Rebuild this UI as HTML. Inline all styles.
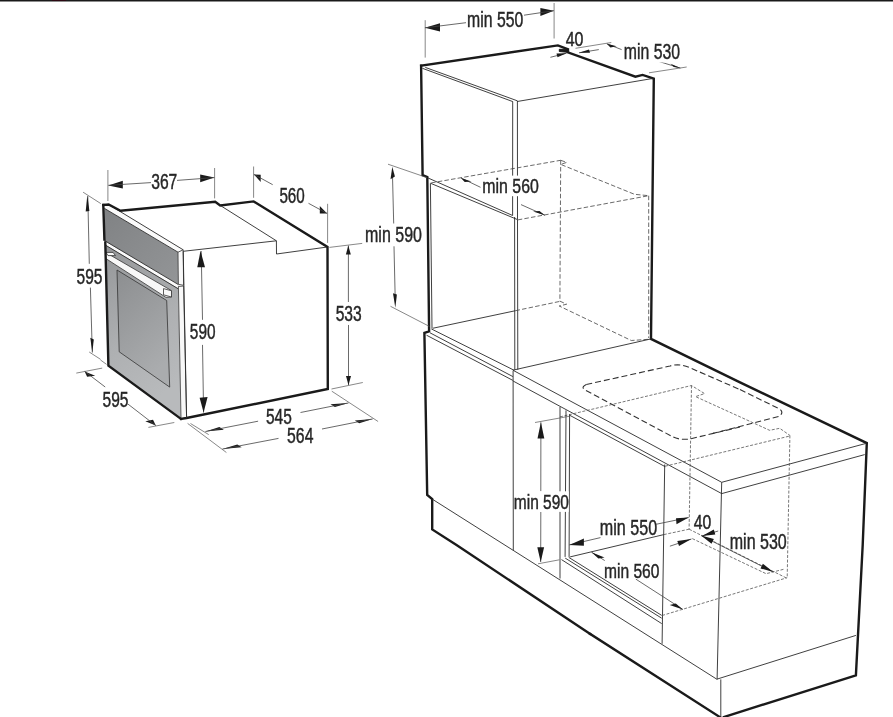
<!DOCTYPE html>
<html><head><meta charset="utf-8"><style>
html,body{margin:0;padding:0;background:#fff;}
svg{display:block;will-change:transform;}
.K{fill:none;stroke:#1a1a1a;stroke-width:2.4;stroke-linejoin:miter;stroke-linecap:square}
.K2{fill:#1a1a1a;stroke:#1a1a1a;stroke-width:1}
.T{fill:none;stroke:#2a2a2a;stroke-width:0.9}
.W{fill:#f8f8f8;stroke:#333;stroke-width:0.8}
.WS{fill:#fafafa;stroke:none}
.E{fill:none;stroke:#555;stroke-width:0.7}
.D{fill:none;stroke:#444;stroke-width:0.8}
.H{fill:none;stroke:#444;stroke-width:0.8;stroke-dasharray:4.5 2.2}
.H2{fill:none;stroke:#555;stroke-width:0.8;stroke-dasharray:3 1.6}
.B{fill:none;stroke:#333;stroke-width:1.1;stroke-dasharray:6 3}
.AH{fill:#1a1a1a;stroke:none}
text{font-family:"Liberation Sans",sans-serif;fill:#262626;stroke:#262626;stroke-width:0.45px;}
</style></head><body>
<svg width="893" height="717" viewBox="0 0 893 717">
<rect x="0" y="0" width="893" height="1.5" fill="#1a1a1a"/><rect x="52" y="0" width="14" height="1" fill="#2c0812"/>
<defs><linearGradient id="gp" x1="0" y1="0" x2="1" y2="1"><stop offset="0" stop-color="#808284"/><stop offset="1" stop-color="#939597"/></linearGradient><linearGradient id="gd" x1="0" y1="0" x2="0.3" y2="1"><stop offset="0" stop-color="#939597"/><stop offset="0.6" stop-color="#aeb0b2"/><stop offset="1" stop-color="#b8babc"/></linearGradient><linearGradient id="gw" x1="0" y1="0" x2="0.4" y2="1"><stop offset="0" stop-color="#8c8e90"/><stop offset="1" stop-color="#aaacae"/></linearGradient></defs>
<path d="M104.3,208.3 L178,252.2 L178.4,284.3 L104.6,240.5 Z" fill="url(#gp)" stroke="none"/>
<path d="M105.3,241 L178.4,284.8 L181,418.5 L108.5,366 Z" fill="url(#gd)" stroke="none"/>
<path d="M117,270 L166.7,300.5 L169.7,387.1 L119.2,351.8 Z" fill="url(#gw)" stroke="#333" stroke-width="0.8"/>
<path d="M104.3,205 L108.6,204.5 L183.2,249.8 L178,252.2 L104.3,208.3 Z" class="WS"/>
<line x1="108.6" y1="204.5" x2="183.2" y2="249.8" class="T"/>
<line x1="104.3" y1="208.3" x2="178" y2="252.2" class="T"/>
<path d="M105,241.2 L178.4,285 L178.4,288.6 L105.6,245 Z" class="WS"/>
<line x1="104.6" y1="240.6" x2="178.4" y2="284.5" class="T"/>
<line x1="105.6" y1="245.2" x2="178.4" y2="288.9" class="T"/>
<line x1="110" y1="259.5" x2="164" y2="294" class="T"/>
<path d="M105.6,252.4 L171.5,290.6 L171.5,297 L166,297.4 L105.6,258.4 Z" class="W"/>
<path d="M163.5,288.6 L171.5,290.8 L171.5,297 L163.5,294.8 Z" class="W"/>
<path d="M106,252.4 L113,252.4 L115.5,255.6 L108,255.6 Z" class="W"/>
<path d="M178,252.2 L183.2,249.8 L183.6,285.3 L178.4,284.3 Z" class="W"/>
<path d="M178.4,286.5 L183.6,286 L186.6,418 L181,418.5 Z" class="W"/>
<path d="M103.3,205 L108.6,204.5 L120.5,210.8 L215.2,201.8 L220.2,205.4 L253.6,201.4 L327.5,247 L327.8,389 L186.6,418 L181,418.9" class="K"/>
<path d="M103.3,205 L104.4,239.5" class="K"/>
<path d="M105.3,242.5 L108.4,365.7 L181,418.9" class="K"/>
<line x1="183.2" y1="251.3" x2="276.4" y2="240.8" class="T"/>
<path d="M220.2,205.4 L276.4,240.8 L276.5,254 L327.4,247" class="T"/>
<line x1="183.2" y1="251.3" x2="186.6" y2="418" class="T"/>
<line x1="107.9" y1="170" x2="107.9" y2="201" class="E"/>
<line x1="214.6" y1="168" x2="214.6" y2="198.4" class="E"/>
<polygon points="108.3,185.5 122.8,180.8 122.8,188.4" class="AH"/>
<polygon points="214.4,177.6 200.2,174.6 200.2,182.2" class="AH"/>
<line x1="108.3" y1="185.3" x2="151" y2="182.6" class="D"/>
<line x1="177" y1="180.4" x2="214.4" y2="177.6" class="D"/>
<rect x="151.80" y="170.50" width="24.70" height="21.70" fill="#fff"/>
<text x="151.20" y="189.36" textLength="26.14" lengthAdjust="spacingAndGlyphs" style="font-size:22.29px">367</text>
<line x1="253.6" y1="166.5" x2="253.6" y2="197.8" class="E"/>
<line x1="327.6" y1="203.8" x2="327.6" y2="242.9" class="E"/>
<polygon points="253.9,174.4 260.7,174.7 260.7,182.1" class="AH"/>
<polygon points="327.1,213.4 319.8,206.1 319.8,213.5" class="AH"/>
<line x1="253.9" y1="174.4" x2="272.7" y2="184.7" class="D"/>
<line x1="308.5" y1="203.3" x2="327.1" y2="213.4" class="D"/>
<rect x="279.90" y="184.20" width="24.30" height="21.60" fill="#fff"/>
<text x="279.38" y="202.64" textLength="25.42" lengthAdjust="spacingAndGlyphs" style="font-size:22.15px">560</text>
<line x1="83.1" y1="192.2" x2="100.8" y2="203.6" class="E"/>
<line x1="89.2" y1="352" x2="100.5" y2="359.3" class="E"/>
<line x1="87.8" y1="196" x2="89.3" y2="263.8" class="D"/>
<line x1="90.4" y1="287.6" x2="92.3" y2="352.6" class="D"/>
<polygon points="87.3,195.3 85.7,211.5 89.4,211" class="AH"/>
<polygon points="92.3,352.6 90.3,337.7 93.8,339.4" class="AH"/>
<rect x="77.00" y="265.90" width="24.60" height="21.10" fill="#fff"/>
<text x="76.56" y="284.00" textLength="25.96" lengthAdjust="spacingAndGlyphs" style="font-size:21.41px">595</text>
<line x1="201.2" y1="251" x2="202.5" y2="319.8" class="D"/>
<line x1="202.5" y1="344.9" x2="203.6" y2="412.6" class="D"/>
<polygon points="200.5,250.8 197.3,267.3 205,267.3" class="AH"/>
<polygon points="203.6,412.6 199.6,397.7 207.6,397.1" class="AH"/>
<rect x="190.60" y="320.30" width="24.90" height="21.70" fill="#fff"/>
<text x="189.84" y="339.00" textLength="25.70" lengthAdjust="spacingAndGlyphs" style="font-size:22.29px">590</text>
<line x1="329.4" y1="247.4" x2="362.2" y2="243.4" class="E"/>
<line x1="331.5" y1="389" x2="362.8" y2="382.5" class="E"/>
<line x1="348.4" y1="245.6" x2="348.4" y2="302" class="D"/>
<line x1="348.5" y1="324.9" x2="348.5" y2="385" class="D"/>
<polygon points="348.3,245.6 345.9,254.6 350.8,254.6" class="AH"/>
<polygon points="348.5,385.2 346,376 351,376" class="AH"/>
<rect x="336.50" y="303.20" width="24.20" height="21.50" fill="#fff"/>
<text x="335.66" y="321.46" textLength="26.04" lengthAdjust="spacingAndGlyphs" style="font-size:22.00px">533</text>
<line x1="76.3" y1="373.1" x2="102.2" y2="368.1" class="E"/>
<line x1="148.4" y1="427.4" x2="174.3" y2="422.5" class="E"/>
<line x1="100.5" y1="360" x2="106.6" y2="364.4" class="E"/>
<polygon points="84.7,371.4 87.1,376.8 95.2,375.8" class="AH"/>
<polygon points="155.8,425.6 145.3,421.2 153,419.7" class="AH"/>
<line x1="84.7" y1="371.4" x2="105.2" y2="387" class="D"/>
<line x1="128" y1="404.1" x2="155.8" y2="425.6" class="D"/>
<rect x="103.00" y="388.50" width="24.60" height="21.50" fill="#fff"/>
<text x="102.56" y="407.00" textLength="25.96" lengthAdjust="spacingAndGlyphs" style="font-size:22.00px">595</text>
<line x1="190.5" y1="423.5" x2="208.7" y2="434.6" class="E"/>
<line x1="187.6" y1="423.4" x2="226.4" y2="452.5" class="E"/>
<line x1="331.8" y1="391.2" x2="378.1" y2="421.5" class="E"/>
<polygon points="205.4,431.5 219.4,427 223.8,429.8" class="AH"/>
<polygon points="348.5,402.9 330.5,404.3 334.9,407.1" class="AH"/>
<line x1="205.4" y1="431.5" x2="258.1" y2="421.2" class="D"/>
<line x1="300.5" y1="412.5" x2="348.5" y2="402.9" class="D"/>
<rect x="266.60" y="405.90" width="24.60" height="21.40" fill="#fff"/>
<text x="266.00" y="424.30" textLength="25.80" lengthAdjust="spacingAndGlyphs" style="font-size:21.85px">545</text>
<polygon points="222.4,449.1 237.3,444.4 241.7,447.2" class="AH"/>
<polygon points="372.7,418.9 354.8,420.5 359.2,423.3" class="AH"/>
<line x1="222.4" y1="449.1" x2="278.5" y2="438.4" class="D"/>
<line x1="322" y1="429" x2="372.7" y2="418.9" class="D"/>
<rect x="287.70" y="424.70" width="25.10" height="21.40" fill="#fff"/>
<text x="287.10" y="443.10" textLength="26.30" lengthAdjust="spacingAndGlyphs" style="font-size:21.85px">564</text>
<path d="M421.2,65.7 L557.9,45.4 L567.8,49.3" class="K"/>
<path d="M567.8,52.4 L635.4,76.7 L642.6,74.9 L653.8,78.5 L651,338.9 L740,382.4 L866.8,443.1 L862.7,545 L855.9,675.3 L724,717" class="K"/>
<path d="M559.3,49.3 L568.7,49.3 L568.7,52.4 L559.3,51.5 Z" class="K2"/>
<path d="M421.1,65.7 L422.6,175.1 L427.3,177 L429.1,331.4 L424.4,332.9 L427.2,495 L432.2,499.1 L432.2,529.4 L456.5,545 L590,633.8" class="K"/>
<line x1="590" y1="633.8" x2="719.8" y2="717" class="K"/>
<line x1="425.3" y1="67.4" x2="517.3" y2="100.8" class="T"/>
<line x1="422.4" y1="68.3" x2="512.8" y2="101.6" class="T"/>
<line x1="512.7" y1="101.6" x2="512.6" y2="215.5" class="T"/>
<line x1="517.4" y1="100.8" x2="517.5" y2="219.6" class="T"/>
<line x1="514.6" y1="217" x2="514.8" y2="369.7" class="T"/>
<line x1="517.5" y1="219.6" x2="517.8" y2="369.7" class="T"/>
<line x1="517.2" y1="101.5" x2="652.5" y2="78.5" class="T"/>
<line x1="427.9" y1="177.9" x2="512.6" y2="215.5" class="T"/>
<line x1="430.4" y1="183.2" x2="517.5" y2="219.6" class="T"/>
<line x1="430.4" y1="183.4" x2="432" y2="328.3" class="T"/>
<path d="M431.2,182.9 L560.7,160.3" class="H"/>
<path d="M560.7,160.3 L566.7,162.4 L560.7,164.4 L634.5,194.3 L648.7,195.7" class="H"/>
<line x1="517.8" y1="219.9" x2="648.7" y2="195.7" class="H"/>
<line x1="560.7" y1="160.3" x2="559.9" y2="301.1" class="H"/>
<line x1="648.7" y1="195.7" x2="648.7" y2="338" class="H"/>
<line x1="432.6" y1="328.3" x2="515.5" y2="310.7" class="T"/>
<line x1="515.5" y1="310.7" x2="559.8" y2="301.4" class="H"/>
<path d="M559.8,301.1 L566.6,304.2 L559.2,306 L631.3,340.5 L648.5,339.3" class="H"/>
<line x1="431.3" y1="328.9" x2="514.2" y2="370.3" class="T"/>
<line x1="430" y1="332.8" x2="512.9" y2="376.6" class="T"/>
<line x1="426.5" y1="335.2" x2="512.9" y2="380.4" class="T"/>
<line x1="513.3" y1="370.1" x2="651" y2="338.9" class="T"/>
<line x1="513.1" y1="370.3" x2="721.7" y2="482.3" class="T"/>
<line x1="513.1" y1="381" x2="721.7" y2="493.6" class="T"/>
<line x1="721.7" y1="482.3" x2="865.7" y2="443.5" class="T"/>
<line x1="721.7" y1="493.6" x2="864.7" y2="454.6" class="T"/>
<line x1="721.7" y1="482.3" x2="717.1" y2="679.4" class="T"/>
<line x1="720.8" y1="679.4" x2="720.8" y2="717" class="T"/>
<line x1="513.1" y1="370.6" x2="513.3" y2="550.3" class="T"/>
<path d="M586.3,384.5 L670,366 Q680,363 690,367.8 L740,389.6" class="B"/>
<path d="M586.3,384.5 Q581,387 584.3,389.6 L673.3,437.1 Q679,440 689.4,439.1 L740,427" class="B"/>
<path d="M740,389.6 L779.7,409 Q784,412 779.7,416.2 L713,433.4" class="B"/>
<path d="M560,416.9 L691.5,385.5 L704.6,393.6 L695.5,396.6 L769.6,430.3 L779.7,428.3 L789.9,435.4" class="H2"/>
<line x1="691.5" y1="385.5" x2="689.1" y2="529.2" class="H2"/>
<line x1="665.2" y1="466.2" x2="789.9" y2="436" class="H2"/>
<line x1="789.9" y1="435.4" x2="787.2" y2="577.7" class="H2"/>
<line x1="560" y1="406.9" x2="560" y2="578.5" class="T"/>
<line x1="566" y1="410.4" x2="565.1" y2="556.9" class="T"/>
<line x1="569.6" y1="414.4" x2="569.1" y2="556.9" class="T"/>
<line x1="569.4" y1="415.1" x2="665.2" y2="466.7" class="T"/>
<line x1="664.7" y1="464.5" x2="662.1" y2="643.8" class="T"/>
<line x1="570.1" y1="556.9" x2="663.8" y2="534.6" class="T"/>
<line x1="663.8" y1="534.6" x2="689.1" y2="529.2" class="H2"/>
<line x1="689.1" y1="529.2" x2="786.8" y2="578.2" class="H2"/>
<path d="M692.3,538.6 L766.1,573.7 L784,569.2" class="H2"/>
<line x1="568.8" y1="557.4" x2="661.7" y2="615.4" class="T"/>
<line x1="565.2" y1="558.1" x2="661.7" y2="618.2" class="T"/>
<line x1="561.5" y1="559.6" x2="661.7" y2="623.6" class="T"/>
<line x1="662.1" y1="615.5" x2="787.2" y2="577.7" class="H2"/>
<line x1="432.2" y1="499.1" x2="716.8" y2="679.2" class="T"/>
<line x1="716.8" y1="679.2" x2="855.9" y2="635.4" class="T"/>
<line x1="425.2" y1="20.2" x2="425.2" y2="57.6" class="E"/>
<line x1="554.1" y1="3" x2="554.1" y2="38.5" class="E"/>
<polygon points="424.9,27.8 440,23.3 440,31.4" class="AH"/>
<polygon points="553.9,10.7 540.4,8.1 540.4,16.1" class="AH"/>
<line x1="424.9" y1="27.8" x2="466" y2="22.7" class="D"/>
<line x1="524" y1="15.2" x2="553.9" y2="10.7" class="D"/>
<rect x="468.20" y="8.80" width="54.70" height="21.00" fill="#fff"/>
<text x="467.12" y="26.64" textLength="56.14" lengthAdjust="spacingAndGlyphs" style="font-size:21.27px">min 550</text>
<rect x="566.10" y="28.60" width="16.50" height="18.10" fill="#fff"/>
<text x="565.74" y="46.36" textLength="17.78" lengthAdjust="spacingAndGlyphs" style="font-size:20.68px">40</text>
<line x1="575.5" y1="48.3" x2="611.3" y2="42.5" class="E"/>
<line x1="649" y1="72.8" x2="686.7" y2="67" class="E"/>
<line x1="550.4" y1="57.3" x2="566.5" y2="53.2" class="D"/>
<polygon points="566.5,53.2 556.5,53.6 557.5,57.3" class="AH"/>
<line x1="579" y1="52.8" x2="598.8" y2="49.6" class="D"/>
<polygon points="579,52.8 589,49.4 590,52.8" class="AH"/>
<line x1="606.8" y1="43.8" x2="621.6" y2="49.6" class="D"/>
<polygon points="606.8,43.8 610.4,47.6 616.7,46.3" class="AH"/>
<line x1="657.7" y1="61.1" x2="680.4" y2="68.1" class="D"/>
<polygon points="680.4,68.1 670.6,63.7 673.8,66.9" class="AH"/>
<rect x="624.60" y="41.10" width="55.20" height="21.40" fill="#fff"/>
<text x="623.84" y="59.10" textLength="56.24" lengthAdjust="spacingAndGlyphs" style="font-size:21.85px">min 530</text>
<line x1="388" y1="164.2" x2="427" y2="177.6" class="E"/>
<line x1="390.5" y1="306.3" x2="429.4" y2="326.4" class="E"/>
<line x1="392.5" y1="176" x2="393.7" y2="223.5" class="D"/>
<line x1="394" y1="246.3" x2="395.1" y2="294" class="D"/>
<polygon points="392.3,166.7 390.5,179.2 394.9,176.5" class="AH"/>
<polygon points="395.3,307.8 393,293.2 396.9,294.4" class="AH"/>
<text x="365.02" y="242.46" textLength="56.96" lengthAdjust="spacingAndGlyphs" style="font-size:21.85px">min 590</text>
<line x1="460.9" y1="177.9" x2="480.5" y2="187.3" class="D"/>
<polygon points="460.9,177.9 464.7,182.1 471.5,181.4" class="AH"/>
<line x1="521" y1="204.6" x2="544.9" y2="215.3" class="D"/>
<polygon points="544.9,215.3 533.1,211.6 539.5,210.9" class="AH"/>
<rect x="483.30" y="175.60" width="54.90" height="20.60" fill="#fff"/>
<text x="482.30" y="193.36" textLength="56.50" lengthAdjust="spacingAndGlyphs" style="font-size:20.68px">min 560</text>
<line x1="535" y1="422.5" x2="569.8" y2="416.2" class="E"/>
<line x1="538" y1="563.8" x2="559.4" y2="559.8" class="E"/>
<line x1="540.9" y1="422.3" x2="540.8" y2="491.3" class="D"/>
<line x1="540.8" y1="512" x2="540.7" y2="562" class="D"/>
<polygon points="540.9,422.3 544.3,438.6 537.5,438.6" class="AH"/>
<polygon points="540.7,562.0 537.3,547.3 544.1,547.3" class="AH"/>
<rect x="514.60" y="491.30" width="54.10" height="20.60" fill="#fff"/>
<text x="513.84" y="508.82" textLength="55.06" lengthAdjust="spacingAndGlyphs" style="font-size:20.68px">min 590</text>
<line x1="569.4" y1="544.9" x2="600.5" y2="537.6" class="D"/>
<line x1="655" y1="524.5" x2="688.7" y2="517.5" class="D"/>
<polygon points="569.4,544.9 583.9,538.4 583.9,545.7" class="AH"/>
<polygon points="688.7,517.5 676,518.2 676.5,524.3" class="AH"/>
<rect x="600.60" y="517.50" width="55.80" height="18.40" fill="#fff"/>
<text x="599.84" y="535.28" textLength="57.32" lengthAdjust="spacingAndGlyphs" style="font-size:21.41px">min 550</text>
<rect x="693.70" y="512.00" width="16.80" height="18.00" fill="#fff"/>
<text x="693.82" y="529.00" textLength="17.52" lengthAdjust="spacingAndGlyphs" style="font-size:20.30px">40</text>
<line x1="669.9" y1="546.2" x2="691.4" y2="539" class="D"/>
<polygon points="691.4,539.0 679.0,546.0 677.3,541.0" class="AH"/>
<line x1="702.1" y1="535.9" x2="718.2" y2="531" class="D"/>
<polygon points="702.1,535.9 713.8,529.6 715.3,534.6" class="AH"/>
<line x1="591.5" y1="552.2" x2="606.2" y2="561.5" class="D"/>
<polygon points="591.5,552.2 598.4,558.6 604.5,557.4" class="AH"/>
<line x1="635.8" y1="579.1" x2="682.8" y2="609.4" class="D"/>
<polygon points="682.8,609.4 669.7,605.1 675.8,603.4" class="AH"/>
<rect x="604.70" y="559.90" width="54.30" height="18.90" fill="#fff"/>
<text x="604.02" y="577.64" textLength="55.42" lengthAdjust="spacingAndGlyphs" style="font-size:21.12px">min 560</text>
<line x1="701.1" y1="535.6" x2="773.3" y2="572" class="D"/>
<polygon points="773.3,572.0 760.5,568.4 762.9,563.8" class="AH"/>
<polygon points="701.1,535.6 713.9,539.1 711.5,543.8" class="AH"/>
<rect x="731.00" y="531.10" width="55.20" height="18.20" fill="#fff"/>
<text x="729.76" y="549.18" textLength="57.04" lengthAdjust="spacingAndGlyphs" style="font-size:21.27px">min 530</text>
</svg></body></html>
